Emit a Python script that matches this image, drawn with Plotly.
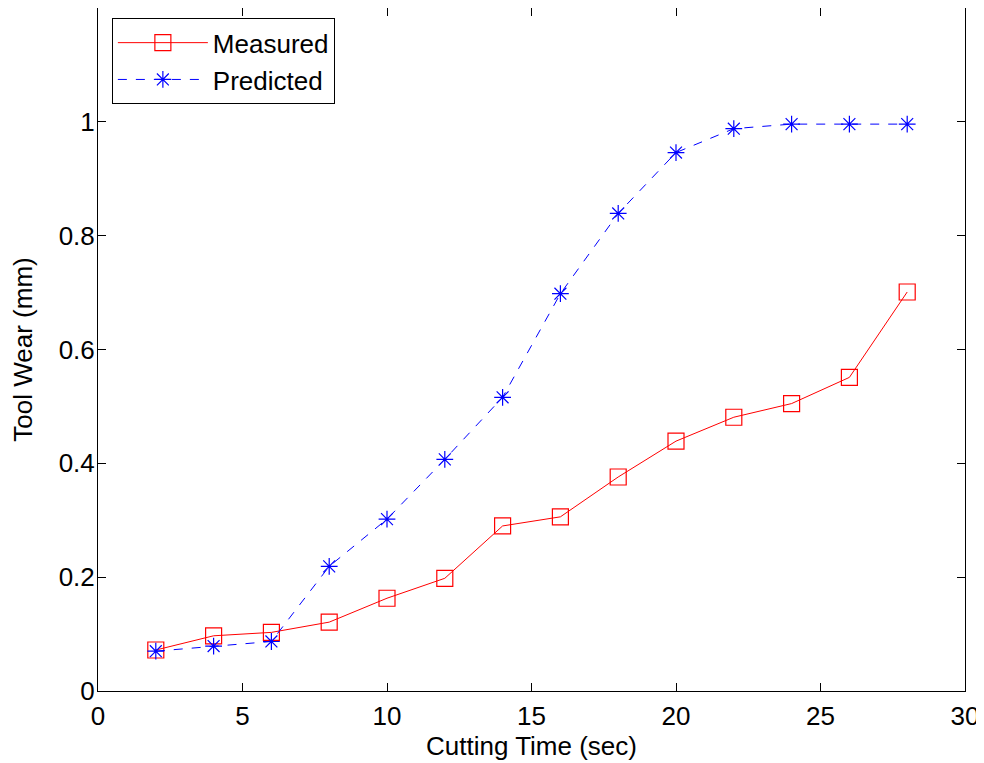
import plotly.graph_objects as go

time_sec = [2, 4, 6, 8, 10, 12, 14, 16, 18, 20, 22, 24, 26, 28]
measured = [0.072, 0.097, 0.103, 0.121, 0.163, 0.198, 0.290, 0.306, 0.376, 0.439, 0.481, 0.505, 0.551, 0.701]
predicted = [0.070, 0.079, 0.087, 0.219, 0.302, 0.407, 0.516, 0.698, 0.839, 0.946, 0.988, 0.996, 0.996, 0.996]

x_ticks = [0, 5, 10, 15, 20, 25, 30]
y_ticks = [0, 0.2, 0.4, 0.6, 0.8, 1]
y_tick_labels = ["0", "0.2", "0.4", "0.6", "0.8", "1"]

FONT = "Liberation Sans, Arial, Helvetica"
FS = 26

fig = go.Figure()
fig.add_trace(go.Scatter(
    x=time_sec, y=measured, name="Measured", mode="lines+markers",
    line=dict(color="#ff0000", width=1),
    marker=dict(symbol="square-open", size=16, color="#ff0000", line=dict(width=1.2)),
))
fig.add_trace(go.Scatter(
    x=time_sec, y=predicted, name="Predicted", mode="lines+markers",
    line=dict(color="#0000ff", width=1, dash="dash"),
    marker=dict(symbol="asterisk-open", size=14, color="#0000ff", line=dict(width=1.2, color="#0000ff")),
))

axis_common = dict(
    showline=True, linecolor="black", linewidth=1, mirror="ticks",
    ticks="inside", ticklen=8, tickcolor="black", showgrid=False, zeroline=False,
    tickfont=dict(family=FONT, size=FS, color="black"),
)

# page body has an 8px margin, so the figure is shrunk by 8px and margins shifted
fig.update_layout(
    width=976, height=755,
    margin=dict(l=90, r=19, t=0, b=72),
    paper_bgcolor="white", plot_bgcolor="white",
    font=dict(family=FONT, size=FS, color="black"),
    xaxis=dict(range=[0, 30], tickvals=x_ticks, ticklabelstandoff=2,
               title=dict(text="Cutting Time (sec)", font=dict(size=FS), standoff=0),
               **axis_common),
    yaxis=dict(range=[0, 1.2], tickvals=y_ticks, ticktext=y_tick_labels,
               ticklabelstandoff=-3,
               title=dict(text="Tool Wear (mm)", font=dict(size=FS), standoff=20),
               **axis_common),
    legend=dict(x=0.016, y=0.985, xanchor="left", yanchor="top",
                bgcolor="white", bordercolor="black", borderwidth=1,
                font=dict(family=FONT, size=FS), itemwidth=90),
)

fig.write_html("out.html")
